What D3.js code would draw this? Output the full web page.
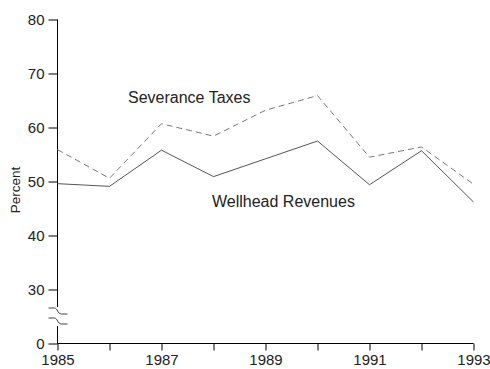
<!DOCTYPE html>
<html>
<head>
<meta charset="utf-8">
<script src="https://cdn.jsdelivr.net/npm/d3@7"></script>
<style>
  html, body { margin: 0; padding: 0; background: #fff; }
  svg { display: block; font-family: "Liberation Sans", Arial, Helvetica, sans-serif; }
</style>
</head>
<body>
<svg id="chart" width="490" height="369"></svg>
<script>
// Years on the horizontal axis
const years = [1985, 1986, 1987, 1988, 1989, 1990, 1991, 1992, 1993];
// Percent series
const severanceTaxes   = [55.9, 50.6, 60.7, 58.4, 63.2, 65.9, 54.5, 56.4, 49.5];
const wellheadRevenues = [49.6, 49.1, 55.8, 50.9, 54.2, 57.5, 49.4, 55.7, 46.2];
// Axis tick values and labels
const yTickValues = [0, 30, 40, 50, 60, 70, 80];
const xTickValues = [1985, 1986, 1987, 1988, 1989, 1990, 1991, 1992, 1993];
const xTickLabels = ["1985", "", "1987", "", "1989", "", "1991", "", "1993"];
const seriesLabels = ["Severance Taxes", "Wellhead Revenues"];
const yTitle = "Percent";

const svg = d3.select("#chart");
const plotLeft = 57.5, plotRight = 473.5, plotTop = 19.5, plotBottom = 343.5;

const x = d3.scaleLinear().domain([1985, 1993]).range([plotLeft, plotRight]);
// Broken axis: 0 sits one step below 30, then 30..80 is linear
const step = (plotBottom - plotTop) / 6;
const y = d3.scaleLinear().domain([0, 30, 80]).range([plotBottom, plotBottom - step, plotTop]);

const ink = "#222";
const tickFont = 15;
const labelFont = 16;
const titleFont = 13.5;

// Y axis
const yAxis = d3.axisLeft(y).tickValues(yTickValues).tickSize(9).tickPadding(4).tickFormat(d3.format("d"));
const gy = svg.append("g").attr("transform", `translate(${plotLeft},0)`).call(yAxis);
gy.select(".domain").remove();
gy.selectAll(".tick line").attr("stroke", "#000");
gy.selectAll(".tick text").attr("fill", ink).attr("font-size", tickFont).attr("font-family", null);

// Y axis line with a break between 0 and 30
const breakTop = 308, breakBot = 325;
svg.append("line").attr("x1", plotLeft).attr("x2", plotLeft).attr("y1", plotTop).attr("y2", breakTop - 1).attr("stroke", "#000");
svg.append("line").attr("x1", plotLeft).attr("x2", plotLeft).attr("y1", breakBot + 1).attr("y2", plotBottom).attr("stroke", "#000");
[breakTop, breakTop + 10].forEach(b => {
  svg.append("path")
    .attr("d", `M${plotLeft - 9},${b} L${plotLeft - 3},${b} C${plotLeft},${b} ${plotLeft},${b + 6} ${plotLeft + 4},${b + 6} L${plotLeft + 10},${b + 6}`)
    .attr("fill", "none").attr("stroke", "#444").attr("stroke-width", 1);
});

// X axis
const xAxis = d3.axisBottom(x).tickValues(xTickValues).tickSize(7).tickPadding(4)
  .tickFormat((d, i) => xTickLabels[i]);
const gx = svg.append("g").attr("transform", `translate(0,${plotBottom})`).call(xAxis);
gx.select(".domain").attr("d", `M${plotLeft},0H${plotRight}`).attr("stroke", "#000");
gx.selectAll(".tick line").attr("stroke", "#000");
gx.selectAll(".tick text").attr("fill", ink).attr("font-size", tickFont).attr("font-family", null);

// Y title
svg.append("text")
  .attr("transform", `translate(20,190) rotate(-90)`)
  .attr("text-anchor", "middle")
  .attr("fill", ink).attr("font-size", titleFont)
  .text(yTitle);

const line = d3.line().x((d, i) => x(years[i])).y(d => y(d));

svg.append("path").datum(severanceTaxes)
  .attr("d", line).attr("fill", "none")
  .attr("stroke", "#777").attr("stroke-width", 1).attr("stroke-dasharray", "6,4");

svg.append("path").datum(wellheadRevenues)
  .attr("d", line).attr("fill", "none")
  .attr("stroke", "#555").attr("stroke-width", 1);

// Series labels
svg.append("text").attr("x", 128).attr("y", 103)
  .attr("fill", ink).attr("font-size", labelFont).text(seriesLabels[0]);
svg.append("text").attr("x", 212).attr("y", 207)
  .attr("fill", ink).attr("font-size", labelFont).text(seriesLabels[1]);
</script>
</body>
</html>
